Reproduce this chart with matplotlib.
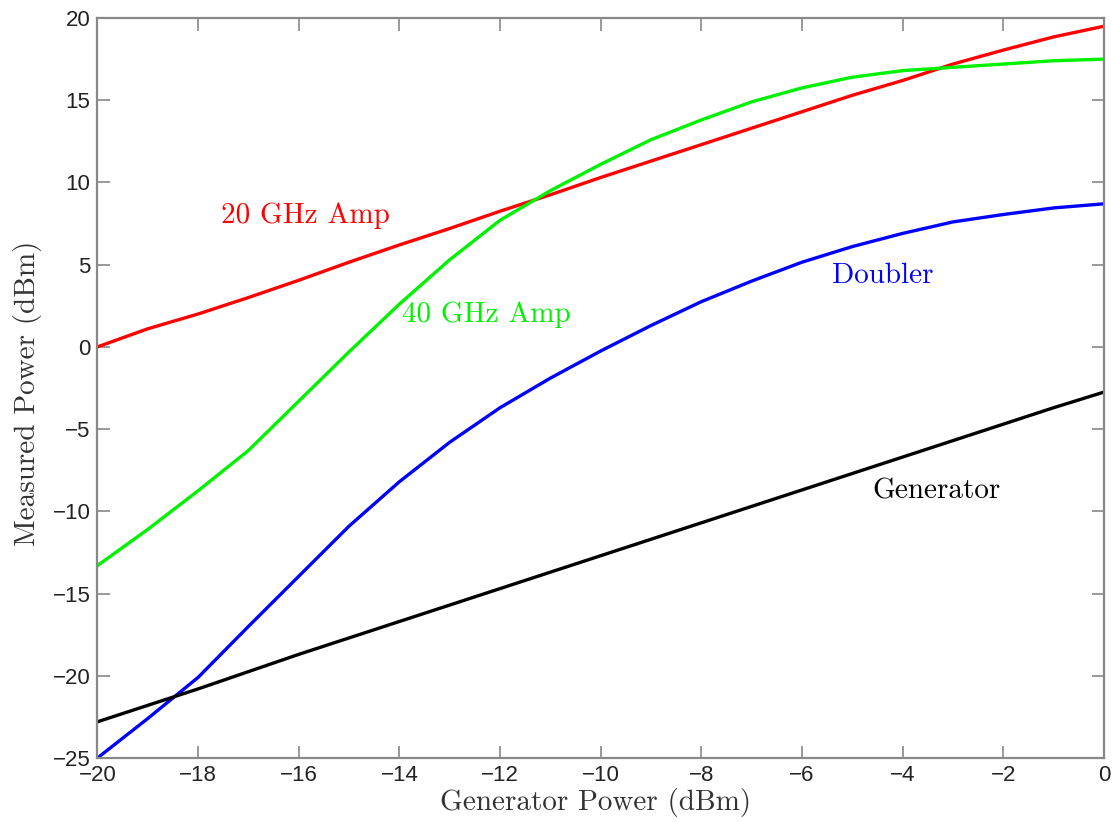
import matplotlib
matplotlib.use("Agg")
import matplotlib.pyplot as plt
import numpy as np

# generator power sweep (dBm)
gen_power = np.arange(-20, 1)

# measured power at each stage (dBm)
amp20 = [0.0, 1.1, 2.0, 3.0, 4.05, 5.15, 6.2, 7.2, 8.25, 9.25, 10.3,
         11.3, 12.3, 13.3, 14.3, 15.3, 16.2, 17.2, 18.05, 18.85, 19.5]
amp40 = [-13.3, -11.1, -8.75, -6.3, -3.3, -0.3, 2.6, 5.3, 7.7, 9.5, 11.1,
         12.6, 13.8, 14.9, 15.75, 16.4, 16.8, 17.0, 17.2, 17.4, 17.5]
doubler = [-25.0, -22.6, -20.1, -17.0, -13.95, -10.9, -8.2, -5.8, -3.7, -1.9, -0.25,
           1.3, 2.75, 4.0, 5.15, 6.1, 6.9, 7.6, 8.05, 8.45, 8.7]
generator = [-22.8, -21.8, -20.8, -19.75, -18.7, -17.7, -16.7, -15.7, -14.7, -13.7, -12.7,
             -11.7, -10.7, -9.7, -8.7, -7.7, -6.7, -5.7, -4.7, -3.7, -2.75]

x_ticks = np.arange(-20, 1, 2)
y_ticks = np.arange(-25, 21, 5)

fig = plt.figure(figsize=(11.15, 8.22), dpi=100)
ax = fig.add_axes([0.0874, 0.0779, 0.9027, 0.9002])

lw = 2.4
ax.plot(gen_power, amp20, color=(1, 0, 0), lw=lw)
ax.plot(gen_power, amp40, color=(0, 0.95, 0), lw=lw)
ax.plot(gen_power, doubler, color=(0, 0, 1), lw=lw)
ax.plot(gen_power, generator, color="black", lw=lw)

serif = dict(family="cmr10", fontsize=21)
ax.text(-17.55, 7.95, "20 GHz Amp", color=(1, 0, 0), va="center", **serif)
ax.text(-13.95, 1.95, "40 GHz Amp", color=(0, 0.95, 0), va="center", **serif)
ax.text(-5.4, 4.3, "Doubler", color=(0, 0, 1), va="center", **serif)
ax.text(-4.6, -8.8, "Generator", color="black", va="center", **serif)

ax.set_xlim(-20, 0)
ax.set_ylim(-25, 20)
ax.set_xticks(x_ticks)
ax.set_yticks(y_ticks)
ax.set_xticklabels([str(t).replace("-", "\u2212") for t in x_ticks])
ax.set_yticklabels([str(t).replace("-", "\u2212") for t in y_ticks])

axis_grey = "#888888"
for s in ax.spines.values():
    s.set_color(axis_grey)
    s.set_linewidth(1.6)
ax.tick_params(direction="in", length=9, width=1.2, color=axis_grey,
               top=True, right=True, labelsize=16, pad=5,
               labelfontfamily="Liberation Sans", labelcolor="#222222")

ax.set_xlabel("Generator Power (dBm)", color="#333333", **serif)
ax.set_ylabel("Measured Power (dBm)", color="#333333", **serif)
ax.xaxis.set_label_coords(0.495, -0.041)
ax.yaxis.set_label_coords(-0.055, 0.493)

fig.savefig("out.png", dpi=100)
